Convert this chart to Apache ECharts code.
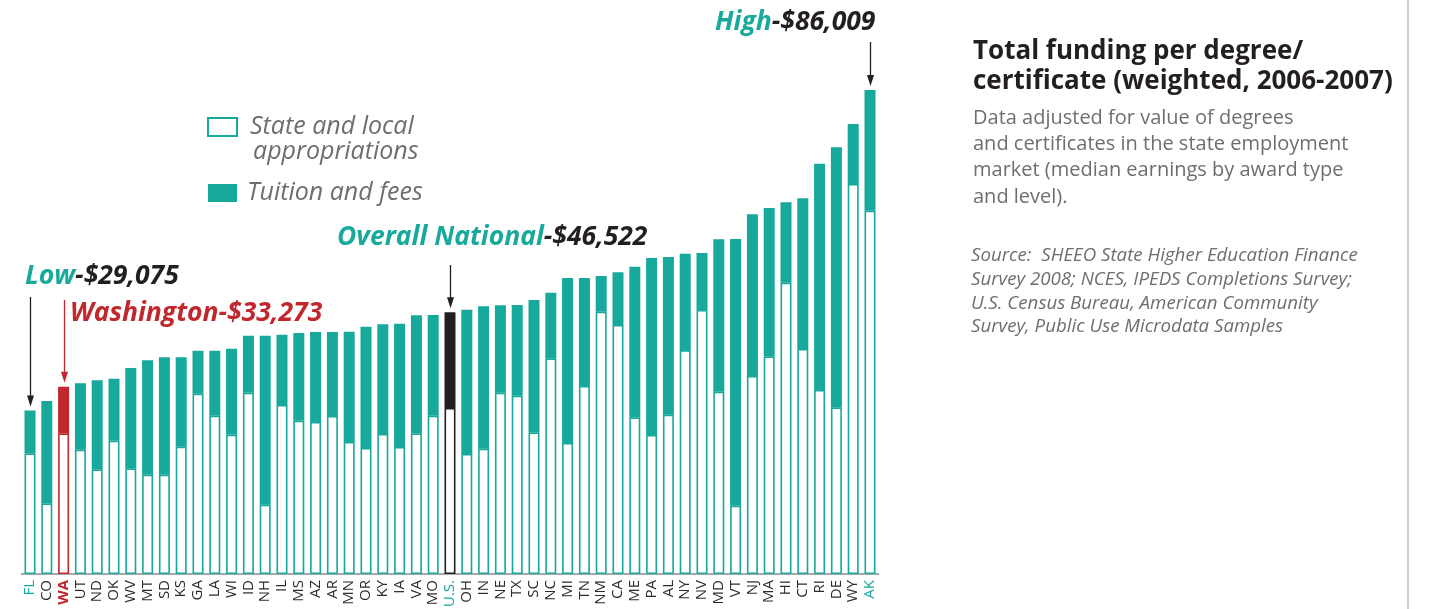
<!DOCTYPE html>
<html>
<head>
<meta charset="utf-8">
<title>Total funding per degree/certificate</title>
<script src="https://cdn.jsdelivr.net/npm/echarts@6.0.0/dist/echarts.min.js"></script>
<style>
  html, body { margin: 0; padding: 0; background: #fff; }
  #chart { width: 1440px; height: 609px; }
</style>
</head>
<body>
<div id="chart"></div>
<script>
// states sorted by total funding per degree (U.S. = national)
const states = ['FL', 'CO', 'WA', 'UT', 'ND', 'OK', 'WV', 'MT', 'SD', 'KS', 'GA', 'LA', 'WI', 'ID', 'NH', 'IL', 'MS',
  'AZ', 'AR', 'MN', 'OR', 'KY', 'IA', 'VA', 'MO', 'U.S.', 'OH', 'IN', 'NE', 'TX', 'SC', 'NC', 'MI', 'TN', 'NM', 'CA',
  'ME', 'PA', 'AL', 'NY', 'NV', 'MD', 'VT', 'NJ', 'MA', 'HI', 'CT', 'RI', 'DE', 'WY', 'AK'];

// state and local appropriations ($ per degree)
const appropriations = [21450, 12560, 25000, 22090, 18600, 23690, 18780, 17650, 17650, 22620, 32040, 28130, 24750,
  32220, 12310, 30030, 27240, 27010, 28080, 23460, 22390, 24880, 22570, 25000, 28130, 29500, 21320, 22270, 32220,
  31690, 25180, 38330, 23280, 33410, 46610, 44250, 27840, 24700, 28310, 39800, 46910, 32400, 12140, 35180, 38680,
  51760, 39980, 32700, 29620, 69300, 64560];

// tuition and fees ($ per degree)
const tuition = [7625, 18180, 8273, 11800, 15820, 11020, 17820, 20320, 20850, 15880, 7650, 11560, 15290, 10130,
  30040, 12500, 15590, 15990, 14920, 19600, 21560, 19490, 21910, 20970, 17890, 17022, 25650, 25300, 15530, 16110,
  23510, 11660, 29320, 19190, 6340, 9360, 26770, 31450, 28020, 17120, 10130, 27070, 47390, 28740, 26360, 14290,
  26780, 40210, 46200, 10670, 21449];

const TEAL = '#17a99b';
const RED = '#c1272d';
const DARK = '#231f20';
const GREY = '#6d6e71';
const FONT = '"Open Sans", "Noto Sans", sans-serif';
const special = { 'WA': RED, 'U.S.': DARK };

var chartDom = document.getElementById('chart');
var myChart = echarts.init(chartDom);

var option = {
  animation: false,
  grid: { left: 21.6, width: 856.8, top: 11.25, bottom: 35, containLabel: false, outerBoundsMode: 'none' },
  xAxis: {
    type: 'category',
    data: states,
    axisTick: { show: false },
    axisLine: { lineStyle: { color: '#a7a9ac', width: 2 } },
    axisLabel: {
      rotate: 90,
      margin: 6,
      interval: 0,
      fontSize: 15,
      fontFamily: FONT,
      color: '#2b2b2b',
      formatter: function (v) {
        if (v === 'WA') return '{wa|WA}';
        if (v === 'FL' || v === 'U.S.' || v === 'AK') return '{hi|' + v + '}';
        return '{n|' + v + '}';
      },
      rich: {
        n: { color: '#2b2b2b', fontSize: 15, fontFamily: FONT },
        wa: { color: RED, fontWeight: 'bold', fontSize: 15, fontFamily: FONT },
        hi: { color: TEAL, fontSize: 15, fontFamily: FONT }
      }
    }
  },
  yAxis: { type: 'value', min: 0, max: 100000, show: false },
  series: [
    {
      name: 'State and local appropriations',
      type: 'bar',
      stack: 'total',
      barWidth: 11,
      itemStyle: { color: '#fff', borderColor: TEAL, borderWidth: 1.6 },
      data: appropriations.map(function (v, i) {
        var c = special[states[i]];
        return c ? { value: v, itemStyle: { borderColor: c } } : v;
      })
    },
    {
      name: 'Tuition and fees',
      type: 'bar',
      stack: 'total',
      barWidth: 11,
      itemStyle: { color: TEAL, borderColor: TEAL, borderWidth: 1.6 },
      data: tuition.map(function (v, i) {
        var c = special[states[i]];
        return c ? { value: v, itemStyle: { color: c, borderColor: c } } : v;
      })
    }
  ],
  title: [
    {
      left: 968,
      top: 32,
      itemGap: 8,
      text: 'Total funding per degree/\ncertificate (weighted, 2006-2007)',
      textStyle: { fontFamily: FONT, fontSize: 26, fontWeight: 'bold', color: DARK, lineHeight: 30 },
      subtext: 'Data adjusted for value of degrees\nand certificates in the state employment\nmarket (median earnings by award type\nand level).',
      subtextStyle: { fontFamily: FONT, fontSize: 20, color: GREY, lineHeight: 26.3 }
    },
    {
      left: 966,
      top: 239,
      text: 'Source:  SHEEO State Higher Education Finance\nSurvey 2008; NCES, IPEDS Completions Survey;\nU.S. Census Bureau, American Community\nSurvey, Public Use Microdata Samples',
      textStyle: { fontFamily: FONT, fontSize: 18.7, fontStyle: 'italic', fontWeight: 'normal', color: GREY, lineHeight: 23.7 }
    }
  ]
};
myChart.setOption(option);

// legend, divider and callouts drawn as graphics, arrows placed from bar positions
var labelFont = 'italic 25px ' + FONT;
var graphics = [
  { type: 'line', shape: { x1: 1408, y1: 0, x2: 1408, y2: 609 }, style: { stroke: '#cfcfcf', lineWidth: 2 } },
  { type: 'rect', shape: { x: 208, y: 118, width: 29, height: 18 }, style: { fill: '#fff', stroke: TEAL, lineWidth: 2 } },
  { type: 'text', x: 250, y: 127, style: { text: 'State and local', font: labelFont, fill: GREY, verticalAlign: 'middle' } },
  { type: 'text', x: 253, y: 152, style: { text: 'appropriations', font: labelFont, fill: GREY, verticalAlign: 'middle' } },
  { type: 'rect', shape: { x: 208, y: 184, width: 29, height: 18 }, style: { fill: TEAL } },
  { type: 'text', x: 247, y: 193, style: { text: 'Tuition and fees', font: labelFont, fill: GREY, verticalAlign: 'middle' } }
];

var callouts = [
  { state: 'AK', head: 'High', tail: '-$86,009', headColor: TEAL, tailColor: DARK, tx: 715, ty: 22, arrowFrom: 42, arrowColor: DARK },
  { state: 'U.S.', head: 'Overall National', tail: '-$46,522', headColor: TEAL, tailColor: DARK, tx: 337, ty: 237, arrowFrom: 265, arrowColor: DARK },
  { state: 'FL', head: 'Low', tail: '-$29,075', headColor: TEAL, tailColor: DARK, tx: 25, ty: 276, arrowFrom: 297, arrowColor: DARK },
  { state: 'WA', head: 'Washington', tail: '-$33,273', headColor: RED, tailColor: RED, tx: 70, ty: 313, arrowFrom: 300, arrowColor: RED }
];

callouts.forEach(function (c) {
  var i = states.indexOf(c.state);
  var p = myChart.convertToPixel({ gridIndex: 0 }, [c.state, appropriations[i] + tuition[i]]);
  var x = Math.round(p[0]) + 0.5;
  var tip = p[1] - 4;
  var bold = 'italic bold 26.5px ' + FONT;
  graphics.push({
    type: 'text', x: c.tx, y: c.ty,
    style: {
      text: '{h|' + c.head + '}{t|' + c.tail + '}',
      verticalAlign: 'middle',
      rich: {
        h: { font: bold, fill: c.headColor },
        t: { font: bold, fill: c.tailColor }
      }
    }
  });
  graphics.push({ type: 'line', shape: { x1: x, y1: c.arrowFrom, x2: x, y2: tip - 8 }, style: { stroke: c.arrowColor, lineWidth: 1.3 } });
  graphics.push({ type: 'polygon', shape: { points: [[x - 3.5, tip - 11], [x + 3.5, tip - 11], [x, tip]] }, style: { fill: c.arrowColor } });
});

myChart.setOption({ graphic: graphics });

window.onresize = function () {
  myChart.resize();
};
</script>
</body>
</html>
